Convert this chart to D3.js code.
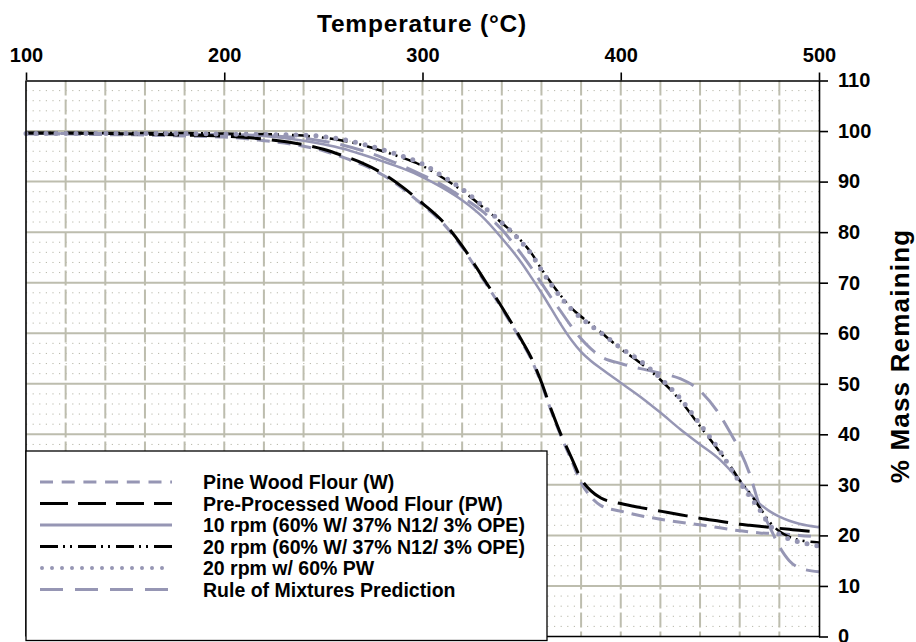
<!DOCTYPE html>
<html><head><meta charset="utf-8">
<script src="https://cdn.jsdelivr.net/npm/d3@7"></script>
<style>
html,body{margin:0;padding:0;background:#fff;}
svg{display:block;font-family:"Liberation Sans",Arial,sans-serif;}
</style></head>
<body>
<svg id="chart" width="916" height="642"></svg>
<script>
// ---- data ----
const temps = [100,120,140,160,180,200,220,240,250,260,270,280,290,300,310,320,330,340,350,355,360,365,370,375,380,385,390,400,410,420,430,440,450,455,460,465,470,475,480,485,490,500];
const pineWood = [99.4,99.4,99.3,99.2,99.0,98.8,98.1,97.0,96.1,94.8,93.3,91.3,88.6,85.4,81.9,77.0,71.0,64.9,58.3,54.7,50.0,44.5,39.5,35.0,30.4,27.6,25.9,24.8,23.9,23.2,22.6,22.1,21.5,21.2,20.9,20.7,20.5,20.4,20.3,20.2,20.0,19.7];
const preProcessed = [99.6,99.6,99.5,99.4,99.2,99.0,98.4,97.3,96.4,95.1,93.6,91.6,88.9,85.7,82.2,77.3,71.3,65.2,58.6,55.0,50.3,44.8,39.8,35.5,31.2,28.8,27.4,26.3,25.5,24.8,24.1,23.4,22.8,22.5,22.2,22.0,21.8,21.6,21.4,21.2,21.0,20.7];
const rpm10 = [99.5,99.5,99.5,99.5,99.4,99.3,99.0,98.1,97.4,96.5,95.3,94.0,92.6,90.9,88.8,86.3,83.1,78.8,73.9,71.0,68.0,64.8,61.6,58.7,56.3,54.5,53.0,50.2,47.4,44.3,41.0,38.0,35.0,33.0,30.8,28.4,26.3,24.8,23.7,22.9,22.3,21.6];
const rpm20 = [99.6,99.6,99.6,99.6,99.6,99.5,99.4,99.1,98.7,98.1,97.2,96.0,94.7,93.1,90.8,88.2,85.1,81.8,78.2,75.8,72.7,69.9,67.3,65.0,63.3,61.8,60.2,56.9,54.1,50.8,46.7,41.6,36.5,33.9,30.9,28.4,25.6,22.7,20.8,19.7,19.1,18.6];
const rpm20PW = [99.5,99.5,99.5,99.5,99.5,99.4,99.3,99.2,98.9,98.3,97.4,96.3,95.0,93.5,91.1,88.5,85.3,81.9,78.0,75.6,72.5,69.6,67.0,64.8,63.0,61.5,60.1,57.1,54.5,51.1,47.1,42.0,36.7,33.6,30.5,27.8,25.1,22.1,20.2,19.3,18.7,17.9];
const ruleOfMixtures = [99.5,99.5,99.5,99.5,99.4,99.3,99.1,98.6,98.0,97.2,96.1,94.7,93.1,91.3,89.3,86.9,84.2,80.5,75.6,72.9,69.9,67.0,64.2,61.4,58.9,56.9,55.4,54.0,53.0,52.1,51.0,48.6,43.8,40.5,36.9,32.2,25.9,21.8,17.8,15.0,13.6,12.8];
const seriesNames = ["Pine Wood Flour (W)","Pre-Processed Wood Flour (PW)","10 rpm (60% W/ 37% N12/ 3% OPE)","20 rpm (60% W/ 37% N12/ 3% OPE)","20 rpm w/ 60% PW","Rule of Mixtures Prediction"];
const xTicks = [100,200,300,400,500];
const yTicks = [0,10,20,30,40,50,60,70,80,90,100,110];
const xTitle = "Temperature (°C)";
const yTitle = "% Mass Remaining";

// ---- layout ----
const GRAY = "#9696b4";
const GRID = "#bdbdae";
const svg = d3.select("#chart");
const x = d3.scaleLinear().domain([100,500]).range([26,819]);
const y = d3.scaleLinear().domain([0,110]).range([636.5,80.5]);

// minor dotted horizontal grid every 2
const minorY = d3.range(0,110,2).filter(v => v % 10 !== 0);
svg.append("g").selectAll("line").data(minorY).join("line")
  .attr("x1",x(100)).attr("x2",x(500)).attr("y1",d=>y(d)).attr("y2",d=>y(d))
  .attr("stroke","#b8b8aa").attr("stroke-width",1).attr("stroke-dasharray","1.2,5.4");
// major horizontal grid
svg.append("g").selectAll("line").data(d3.range(10,110,10)).join("line")
  .attr("x1",x(100)).attr("x2",x(500)).attr("y1",d=>y(d)).attr("y2",d=>y(d))
  .attr("stroke",GRID).attr("stroke-width",2);
// major vertical dashed grid every 20
svg.append("g").selectAll("line").data(d3.range(120,500,20)).join("line")
  .attr("x1",d=>x(d)).attr("x2",d=>x(d)).attr("y1",y(110)).attr("y2",y(0))
  .attr("stroke",GRID).attr("stroke-width",2).attr("stroke-dasharray","15,4");

// ---- series ----
const styles = [
  {data:pineWood, color:GRAY, w:3, dash:"13,8", cap:"butt"},
  {data:preProcessed, color:"#000", w:3, dash:"30,11", cap:"butt"},
  {data:rpm10, color:GRAY, w:2.5, dash:null, cap:"butt"},
  {data:rpm20, color:"#000", w:2.5, dash:"18,5,2,5,2,6", cap:"butt"},
  {data:rpm20PW, color:GRAY, w:5, dash:"0,10", cap:"round"},
  {data:ruleOfMixtures, color:GRAY, w:3, dash:"24,11", cap:"butt"}
];
const line = d3.line().x(d=>x(d[0])).y(d=>y(d[1])).curve(d3.curveMonotoneX);
const drawOrder = [0,2,5,1,3,4];
drawOrder.forEach(i => {
  const s = styles[i];
  svg.append("path").datum(temps.map((t,k)=>[t,s.data[k]]))
    .attr("d",line).attr("fill","none").attr("stroke",s.color)
    .attr("stroke-width",s.w).attr("stroke-dasharray",s.dash)
    .attr("stroke-linecap",s.cap).attr("stroke-linejoin","round");
});

// ---- axes ----
const axTop = svg.append("g").attr("transform",`translate(0,${y(110)})`)
  .call(d3.axisTop(x).tickValues(xTicks).tickSize(8).tickSizeOuter(0).tickPadding(11));
const axRight = svg.append("g").attr("transform",`translate(${x(500)},0)`)
  .call(d3.axisRight(y).tickValues(yTicks).tickSize(9).tickSizeOuter(0).tickPadding(10));
[axTop,axRight].forEach(g=>{
  g.select(".domain").attr("stroke","#000").attr("stroke-width",1.6);
  g.selectAll(".tick line").attr("stroke","#000").attr("stroke-width",1.6);
  g.selectAll(".tick text").attr("fill","#000").attr("font-size",20).attr("font-weight","bold")
    .attr("font-family","'Liberation Sans',Arial,sans-serif");
});
// left & bottom border
svg.append("line").attr("x1",x(100)).attr("x2",x(100)).attr("y1",y(110)).attr("y2",y(0)).attr("stroke","#000").attr("stroke-width",1.6);
svg.append("line").attr("x1",x(100)).attr("x2",x(500)).attr("y1",y(0)).attr("y2",y(0)).attr("stroke","#000").attr("stroke-width",1.6);

svg.append("text").attr("x",422).attr("y",32).attr("text-anchor","middle")
  .attr("font-size",24.5).attr("font-weight","bold").attr("letter-spacing",0.8).text(xTitle);
svg.append("text").attr("transform","translate(909,356) rotate(-90)").attr("text-anchor","middle")
  .attr("font-size",26).attr("font-weight","bold").attr("letter-spacing",1.2).text(yTitle);

// ---- legend ----
const lg = svg.append("g");
lg.append("rect").attr("x",26).attr("y",451).attr("width",521).attr("height",189.5)
  .attr("fill","#fff").attr("stroke","#000").attr("stroke-width",1.3);
const legendRowY = d3.scaleLinear().domain([0,5]).range([482,589.5]);
const legendDash = ["13,8.7","28,10","","18,5,2,5,2,6","0,10","23,12"];
seriesNames.forEach((name,i)=>{
  const s = styles[i];
  const yy = legendRowY(i);
  lg.append("line").attr("x1",i===4?42:40).attr("x2",i===4?166:172).attr("y1",yy).attr("y2",yy)
    .attr("stroke",s.color).attr("stroke-width",i===4?4:3)
    .attr("stroke-dasharray",legendDash[i]||null).attr("stroke-linecap",s.cap);
  lg.append("text").attr("x",203).attr("y",yy+7).attr("font-size",19.5).attr("font-weight","bold")
    .attr("fill","#000").text(name);
});
</script>
</body></html>
